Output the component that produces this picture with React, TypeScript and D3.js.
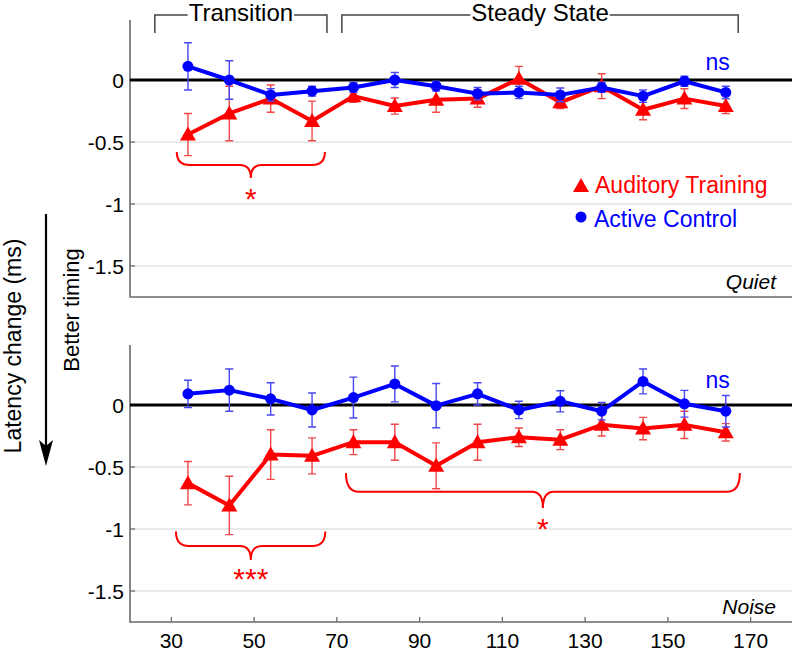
import React, { useEffect, useRef } from "react";
import * as d3 from "d3";

const W = 797;
const H = 653;

// x positions (time windows, ms)
const timePoints = [34, 44, 54, 64, 74, 84, 94, 104, 114, 124, 134, 144, 154, 164];

// Quiet panel
const quietTraining = [-0.44, -0.27, -0.15, -0.33, -0.13, -0.21, -0.16, -0.15, 0.01, -0.18, -0.05, -0.24, -0.15, -0.21];
const quietTrainingErr = [0.17, 0.22, 0.11, 0.16, 0.05, 0.065, 0.1, 0.07, 0.1, 0.05, 0.1, 0.08, 0.08, 0.06];
const quietControl = [0.11, 0.0, -0.12, -0.09, -0.06, 0.0, -0.05, -0.11, -0.1, -0.12, -0.06, -0.13, -0.01, -0.1];
const quietControlErr = [0.19, 0.155, 0.05, 0.04, 0.04, 0.06, 0.04, 0.05, 0.05, 0.055, 0.04, 0.05, 0.04, 0.05];

// Noise panel
const noiseTraining = [-0.63, -0.81, -0.4, -0.41, -0.3, -0.3, -0.49, -0.3, -0.26, -0.28, -0.16, -0.19, -0.16, -0.22];
const noiseTrainingErr = [0.175, 0.235, 0.2, 0.145, 0.1, 0.145, 0.185, 0.145, 0.075, 0.08, 0.09, 0.09, 0.11, 0.07];
const noiseControl = [0.09, 0.12, 0.05, -0.04, 0.06, 0.17, -0.005, 0.09, -0.04, 0.03, -0.05, 0.19, 0.01, -0.05];
const noiseControlErr = [0.11, 0.17, 0.13, 0.137, 0.165, 0.145, 0.178, 0.09, 0.07, 0.085, 0.07, 0.1, 0.108, 0.127];

const xTicks = [30, 50, 70, 90, 110, 130, 150, 170];
const yTicks = [0, -0.5, -1, -1.5];
const yTickLabels = ["0", "-0.5", "-1", "-1.5"];

const seriesNames = ["Auditory Training", "Active Control"];
const panelNames = ["Quiet", "Noise"];

const periodLabels = ["Transition", "Steady State"];
const periodStart = [26, 71.2];
const periodEnd = [67.6, 167];

// significance braces: [x start, x end, x tip], in ms
const quietBraceX = [[31.3, 67.1, 49.2]];
const quietBraceLabels = ["*"];
const noiseBraceX = [[31.1, 67.2, 49.2], [72.2, 167.4, 119.8]];
const noiseBraceLabels = ["***", "*"];

const RED = "#ff0000";
const BLUE = "#0000ff";
const FONT = "'Liberation Sans', Arial, Helvetica, sans-serif";

export default function App() {
  const ref = useRef<SVGSVGElement>(null);

  useEffect(() => {
    const svg = d3.select(ref.current);
    svg.selectAll("*").remove();

    const x = d3.scaleLinear().domain([20, 180]).range([130, 792]);

    const panels = [
      {
        name: panelNames[0], top: 20, bottom: 297,
        at: quietTraining, atErr: quietTrainingErr, ac: quietControl, acErr: quietControlErr,
        braces: quietBraceX, braceLabels: quietBraceLabels,
        braceY: [[-0.58, -0.685, -0.79, -0.9]],
        nsY: 0.08, showX: false, legend: true,
      },
      {
        name: panelNames[1], top: 345, bottom: 622,
        at: noiseTraining, atErr: noiseTrainingErr, ac: noiseControl, acErr: noiseControlErr,
        braces: noiseBraceX, braceLabels: noiseBraceLabels,
        braceY: [[-1.02, -1.137, -1.25, -1.35], [-0.548, -0.7, -0.83, -0.94]],
        nsY: 0.137, showX: true, legend: false,
      },
    ];

    const triPath = (cx: number, cy: number) =>
      `M${cx},${cy - 8}L${cx + 8},${cy + 6}L${cx - 8},${cy + 6}Z`;

    panels.forEach((p) => {
      const y = d3.scaleLinear().domain([-1.75, 0.484]).range([p.bottom, p.top]);
      const g = svg.append("g");

      // gridlines
      g.selectAll("line.grid").data(yTicks).enter().append("line")
        .attr("x1", x(20)).attr("x2", x(180))
        .attr("y1", (d) => y(d)).attr("y2", (d) => y(d))
        .attr("stroke", "#e3e3e3").attr("stroke-width", 1.5);

      // axes
      g.append("path")
        .attr("d", `M${x(20)},${p.top}V${p.bottom}H${x(180)}`)
        .attr("fill", "none").attr("stroke", "#6a6a6a").attr("stroke-width", 1.6);

      // y ticks
      yTicks.forEach((t, i) => {
        g.append("line").attr("x1", x(20)).attr("x2", x(20) + 5)
          .attr("y1", y(t)).attr("y2", y(t)).attr("stroke", "#6a6a6a").attr("stroke-width", 1.3);
        g.append("text").attr("x", x(20) - 6).attr("y", y(t)).attr("dy", "0.36em")
          .attr("text-anchor", "end").attr("font-family", FONT).attr("font-size", 21)
          .attr("fill", "#000").text(yTickLabels[i]);
      });

      if (p.showX) {
        xTicks.forEach((t) => {
          g.append("line").attr("x1", x(t)).attr("x2", x(t))
            .attr("y1", p.bottom).attr("y2", p.bottom - 5)
            .attr("stroke", "#6a6a6a").attr("stroke-width", 1.3);
          g.append("text").attr("x", x(t)).attr("y", p.bottom + 26)
            .attr("text-anchor", "middle").attr("font-family", FONT).attr("font-size", 21)
            .attr("fill", "#000").text(String(t));
        });
      }

      // zero line
      g.append("line").attr("x1", x(20)).attr("x2", x(180))
        .attr("y1", y(0)).attr("y2", y(0)).attr("stroke", "#000").attr("stroke-width", 3);

      // braces
      p.braces.forEach((b, i) => {
        const [x0v, x1v, xmv] = b;
        const [yEv, yLv, yTv, ySv] = p.braceY[i];
        const x0 = x(x0v), x1 = x(x1v), xm = x(xmv);
        const yE = y(yEv), yL = y(yLv), yT = y(yTv);
        const r = 13, rm = 11;
        const d = `M${x0},${yE}Q${x0},${yL} ${x0 + r},${yL}L${xm - rm},${yL}Q${xm},${yL} ${xm},${yT}` +
          `Q${xm},${yL} ${xm + rm},${yL}L${x1 - r},${yL}Q${x1},${yL} ${x1},${yE}`;
        g.append("path").attr("d", d).attr("fill", "none").attr("stroke", RED).attr("stroke-width", 2);
        g.append("text").attr("x", xm).attr("y", y(ySv) + 17).attr("text-anchor", "middle")
          .attr("font-family", FONT).attr("font-size", 30).attr("fill", RED).text(p.braceLabels[i]);
      });

      const series = [
        { v: p.at, e: p.atErr, color: RED, err: "#f04848", tri: true },
        { v: p.ac, e: p.acErr, color: BLUE, err: "#4848f0", tri: false },
      ];

      series.forEach((s) => {
        // error bars
        s.v.forEach((v, i) => {
          const cx = x(timePoints[i]);
          const yt = y(v + s.e[i]), yb = y(v - s.e[i]);
          g.append("path")
            .attr("d", `M${cx},${yt}V${yb}M${cx - 4},${yt}H${cx + 4}M${cx - 4},${yb}H${cx + 4}`)
            .attr("fill", "none").attr("stroke", s.err).attr("stroke-width", 1.4);
        });
        const line = d3.line<number>().x((_, i) => x(timePoints[i])).y((d) => y(d));
        g.append("path").attr("d", line(s.v) as string).attr("fill", "none")
          .attr("stroke", s.color).attr("stroke-width", 4).attr("stroke-linejoin", "round");
        s.v.forEach((v, i) => {
          const cx = x(timePoints[i]), cy = y(v);
          if (s.tri) g.append("path").attr("d", triPath(cx, cy)).attr("fill", s.color);
          else g.append("circle").attr("cx", cx).attr("cy", cy).attr("r", 5.5).attr("fill", s.color);
        });
      });

      // ns
      g.append("text").attr("x", x(162)).attr("y", y(p.nsY)).attr("text-anchor", "middle")
        .attr("font-family", FONT).attr("font-size", 23).attr("fill", BLUE).text("ns");

      // panel name
      g.append("text").attr("x", 776).attr("y", p.bottom - 8).attr("text-anchor", "end")
        .attr("font-family", FONT).attr("font-size", 21).attr("font-style", "italic")
        .attr("fill", "#000").text(p.name);

      if (p.legend) {
        g.append("path").attr("d", triPath(581, 186)).attr("fill", RED);
        g.append("text").attr("x", 595).attr("y", 193).attr("font-family", FONT)
          .attr("font-size", 23).attr("fill", RED).text(seriesNames[0]);
        g.append("circle").attr("cx", 581).attr("cy", 217).attr("r", 5.5).attr("fill", BLUE);
        g.append("text").attr("x", 594).attr("y", 227).attr("font-family", FONT)
          .attr("font-size", 23).attr("fill", BLUE).text(seriesNames[1]);
      }
    });

    // period brackets on top
    periodLabels.forEach((lab, i) => {
      const xa = x(periodStart[i]), xb = x(periodEnd[i]);
      const xc = (xa + xb) / 2;
      const t = svg.append("text").attr("x", xc).attr("y", 21).attr("text-anchor", "middle")
        .attr("font-family", FONT).attr("font-size", 24).attr("fill", "#000").text(lab);
      const bb = (t.node() as SVGTextElement).getBBox();
      const gap0 = bb.x - 1, gap1 = bb.x + bb.width + 1;
      svg.append("path")
        .attr("d", `M${xa},33V15H${gap0}M${gap1},15H${xb}V33`)
        .attr("fill", "none").attr("stroke", "#444").attr("stroke-width", 1.5);
    });

    // y label and arrow
    svg.append("text").attr("transform", "translate(21,346) rotate(-90)").attr("text-anchor", "middle")
      .attr("font-family", FONT).attr("font-size", 23).attr("fill", "#000").text("Latency change (ms)");
    svg.append("text").attr("transform", "translate(79,310) rotate(-90)").attr("text-anchor", "middle")
      .attr("font-family", FONT).attr("font-size", 22).attr("fill", "#000").text("Better timing");
    svg.append("line").attr("x1", 46).attr("x2", 46).attr("y1", 214).attr("y2", 452)
      .attr("stroke", "#000").attr("stroke-width", 2.2);
    svg.append("path").attr("d", "M46,466L39,440L46,446L53,440Z").attr("fill", "#000");
  }, []);

  return (
    <svg
      ref={ref}
      width={W}
      height={H}
      style={{ position: "absolute", left: 0, top: 0, background: "#fff" }}
    />
  );
}
